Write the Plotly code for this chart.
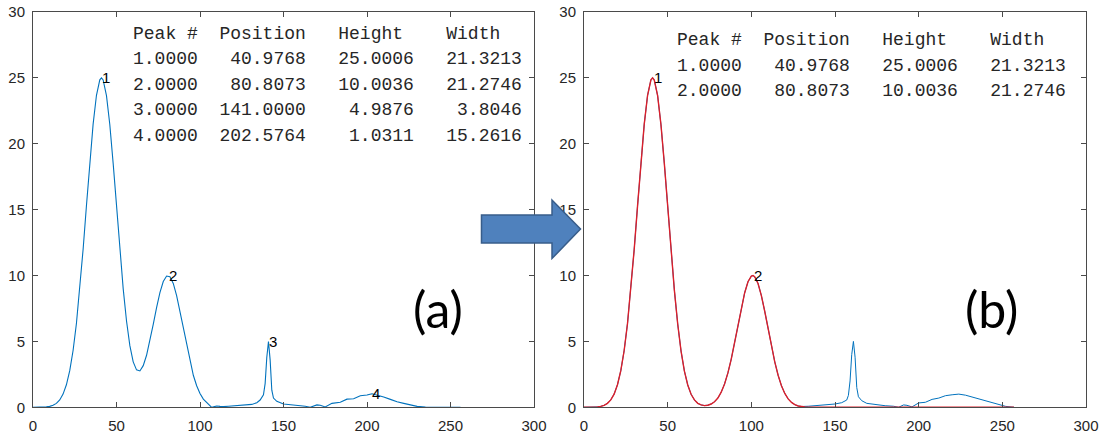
import plotly.graph_objects as go

W, H = 1109, 436

# ---------------- data ----------------
# (a) original signal
a_x = [0, 2, 4, 6, 8, 10, 12, 14, 16, 18, 20, 22, 24, 26, 28, 30, 32, 34, 36, 38, 40, 41, 42, 44, 46, 48,
       50, 52, 54, 56, 58, 60, 62, 64, 66, 68, 70, 72, 74, 76, 78, 80, 82, 84, 86, 88, 90, 92, 94, 96, 98,
       100, 102, 104, 106, 107, 108, 110, 112, 114, 117, 120, 124, 128, 131, 134, 136, 138, 139, 140, 141,
       142, 143, 144, 146, 150, 155, 160, 163, 166, 170, 172, 175, 179, 184, 188, 192, 196, 200, 203, 207,
       210, 214, 218, 222, 226, 230, 235, 240, 248, 256]
a_y = [0.00, 0.00, 0.01, 0.01, 0.03, 0.07, 0.15, 0.30, 0.56, 1.00, 1.71, 2.78, 4.31, 6.36, 8.95, 11.98,
       15.29, 18.57, 21.49, 23.68, 24.85, 25.00, 24.84, 23.65, 21.44, 18.51, 15.25, 11.98, 9.01, 6.55, 4.68,
       3.45, 2.84, 2.76, 3.16, 3.95, 5.04, 6.29, 7.56, 8.70, 9.54, 9.96, 9.91, 9.40, 8.48, 7.29, 5.96, 4.64,
       3.45, 2.43, 1.64, 1.05, 0.62, 0.34, 0.08, 0.00, 0.03, 0.10, 0.07, 0.05, 0.08, 0.10, 0.13, 0.17, 0.22,
       0.35, 0.55, 0.95, 1.80, 3.80, 4.99, 3.60, 1.30, 0.70, 0.45, 0.25, 0.18, 0.15, 0.08, 0.00, 0.18, 0.15,
       0.03, 0.30, 0.38, 0.62, 0.65, 0.88, 0.93, 1.03, 0.90, 0.78, 0.60, 0.42, 0.30, 0.17, 0.07, 0.02, 0.01,
       0.00, 0.00]

# (b) shifted signal
b_x = [0, 2, 4, 6, 8, 10, 12, 14, 16, 18, 20, 22, 24, 26, 28, 30, 32, 34, 36, 38, 40, 41, 42, 44, 46, 48,
       50, 52, 54, 56, 58, 60, 62, 64, 66, 68, 70, 72, 74, 76, 78, 80, 82, 84, 86, 88, 90, 92, 94, 96, 98,
       100, 101, 102, 104, 106, 108, 110, 112, 114, 116, 118, 120, 122, 124, 126, 128, 130, 134, 138, 142,
       146, 150, 154, 157, 158, 159, 160, 161, 162, 163, 164, 166, 169, 174, 180, 185, 188, 191, 193, 196,
       200, 204, 208, 212, 216, 220, 224, 228, 232, 236, 240, 244, 248, 252, 257]
b_y = [0.00, 0.00, 0.01, 0.01, 0.03, 0.07, 0.15, 0.30, 0.56, 1.00, 1.71, 2.78, 4.31, 6.36, 8.95, 11.98,
       15.29, 18.57, 21.49, 23.68, 24.85, 25.00, 24.84, 23.65, 21.44, 18.51, 15.22, 11.92, 8.89, 6.32, 4.27,
       2.75, 1.69, 0.99, 0.56, 0.30, 0.18, 0.13, 0.16, 0.25, 0.42, 0.70, 1.15, 1.77, 2.61, 3.66, 4.89, 6.22,
       7.53, 8.68, 9.53, 9.96, 10.00, 9.91, 9.40, 8.48, 7.29, 5.96, 4.64, 3.45, 2.43, 1.64, 1.05, 0.64, 0.37,
       0.20, 0.10, 0.06, 0.08, 0.12, 0.16, 0.20, 0.25, 0.35, 0.55, 0.90, 2.00, 4.00, 5.00, 3.80, 1.50, 0.80,
       0.50, 0.30, 0.20, 0.12, 0.08, 0.00, 0.18, 0.15, 0.03, 0.33, 0.38, 0.60, 0.70, 0.88, 0.95, 1.00, 0.92,
       0.78, 0.65, 0.50, 0.33, 0.18, 0.07, 0.00]

# (b) fitted model (two peaks)
fit_x = [0, 2, 4, 6, 8, 10, 12, 14, 16, 18, 20, 22, 24, 26, 28, 30, 32, 34, 36, 38, 40, 41, 42, 44, 46, 48,
         50, 52, 54, 56, 58, 60, 62, 64, 66, 68, 70, 72, 74, 76, 78, 80, 82, 84, 86, 88, 90, 92, 94, 96, 98,
         100, 101, 102, 104, 106, 108, 110, 112, 114, 116, 118, 120, 122, 124, 126, 128, 130, 132, 136, 257]
fit_y = [0.00, 0.00, 0.01, 0.01, 0.03, 0.07, 0.15, 0.30, 0.56, 1.00, 1.71, 2.78, 4.31, 6.36, 8.95, 11.98,
         15.29, 18.57, 21.49, 23.68, 24.85, 25.00, 24.84, 23.65, 21.44, 18.51, 15.22, 11.92, 8.89, 6.32, 4.27,
         2.75, 1.69, 0.99, 0.56, 0.30, 0.18, 0.13, 0.16, 0.25, 0.42, 0.70, 1.15, 1.77, 2.61, 3.66, 4.89, 6.22,
         7.53, 8.68, 9.53, 9.96, 10.00, 9.91, 9.40, 8.48, 7.29, 5.96, 4.64, 3.45, 2.43, 1.64, 1.05, 0.64, 0.37,
         0.20, 0.10, 0.05, 0.02, 0.00, 0.00]

# peak tables
peak_num_a = [1, 2, 3, 4]
peak_pos_a = [40.9768, 80.8073, 141.0000, 202.5764]
peak_hgt_a = [25.0006, 10.0036, 4.9876, 1.0311]
peak_wid_a = [21.3213, 21.2746, 3.8046, 15.2616]

peak_num_b = [1, 2]
peak_pos_b = [40.9768, 80.8073]
peak_hgt_b = [25.0006, 10.0036]
peak_wid_b = [21.3213, 21.2746]

# peak marker positions on the plots
lab_a_x = [40.98, 80.81, 141.0, 202.58]
lab_a_y = [25.0, 10.0, 4.99, 1.03]
lab_b_x = [40.98, 100.8]
lab_b_y = [25.0, 10.0]
lab_text_a = ["1", "2", "3", "4"]
lab_text_b = ["1", "2"]

header = "Peak #  Position   Height    Width"
panel_names = ["(a)", "(b)"]

# ---------------- figure ----------------
BLUE = "#0072BD"
RED = "#DC1F2A"
AX = "#4a4a4a"
TXT = "#262626"

def px(x):
    return x / W

def py(y):
    return 1 - y / H

fig = go.Figure()
fig.add_trace(go.Scatter(x=a_x, y=a_y, mode="lines", line=dict(color=BLUE, width=1.1),
                         xaxis="x", yaxis="y", hoverinfo="skip"))
fig.add_trace(go.Scatter(x=b_x, y=b_y, mode="lines", line=dict(color=BLUE, width=1.0),
                         xaxis="x2", yaxis="y2", hoverinfo="skip"))
fig.add_trace(go.Scatter(x=fit_x, y=fit_y, mode="lines", line=dict(color=RED, width=1.4),
                         xaxis="x2", yaxis="y2", hoverinfo="skip"))

tickfont = dict(family="Liberation Sans, Arial", size=15, color=TXT)
axcommon = dict(showline=True, linecolor=AX, linewidth=1, mirror="ticks", ticks="inside",
                ticklen=5, tickcolor=AX, tickwidth=1, showgrid=False, zeroline=False,
                tickfont=tickfont, fixedrange=True, automargin=False)
ydom = [(H - 407.3) / H, (H - 12) / H]
fig.update_layout(
    width=W, height=H, margin=dict(l=0, r=0, t=0, b=0, autoexpand=False),
    paper_bgcolor="white", plot_bgcolor="white", showlegend=False,
    xaxis=dict(domain=[px(33), px(534)], range=[0, 300], dtick=50, anchor="y",
               ticklabelstandoff=5, **axcommon),
    yaxis=dict(domain=ydom, range=[0, 30], dtick=5, anchor="x",
               ticklabelstandoff=4, **axcommon),
    xaxis2=dict(domain=[px(584), px(1086)], range=[0, 300], dtick=50, anchor="y2",
                ticklabelstandoff=5, **axcommon),
    yaxis2=dict(domain=ydom, range=[0, 30], dtick=5, anchor="x2",
                ticklabelstandoff=4, **axcommon),
)

annos = []
labfont = dict(family="Liberation Sans, Arial", size=15, color="black")
for xv, yv, t in zip(lab_a_x, lab_a_y, lab_text_a):
    annos.append(dict(x=xv, y=yv, xref="x", yref="y", text=t, showarrow=False,
                      xanchor="left", yanchor="middle", font=labfont, borderpad=0))
for xv, yv, t in zip(lab_b_x, lab_b_y, lab_text_b):
    annos.append(dict(x=xv, y=yv, xref="x2", yref="y2", text=t, showarrow=False,
                      xanchor="left", yanchor="middle", font=labfont, borderpad=0))

NB = "\u00a0"
monofont = dict(family="Courier New, Liberation Mono, monospace", size=18, color=TXT)

def table_rows(nums, pos, hgt, wid):
    rows = [header]
    for n, p, h, w in zip(nums, pos, hgt, wid):
        rows.append(f"{n:.4f}{p:10.4f}{h:10.4f}{w:10.4f}")
    return [r.replace(" ", NB) for r in rows]

def add_table(rows, x0, y0, dy):
    for i, r in enumerate(rows):
        annos.append(dict(x=px(x0), y=py(y0 + i * dy), xref="paper", yref="paper", text=r,
                          showarrow=False, xanchor="left", yanchor="middle", font=monofont,
                          borderpad=0))

add_table(table_rows(peak_num_a, peak_pos_a, peak_hgt_a, peak_wid_a), 132, 33.5, 25.6)
add_table(table_rows(peak_num_b, peak_pos_b, peak_hgt_b, peak_wid_b), 676, 40.0, 25.7)

bigfont = dict(family="Lato, Liberation Sans", size=50, color="black")
annos.append(dict(x=px(438), y=py(309), xref="paper", yref="paper", text=panel_names[0],
                  showarrow=False, xanchor="center", yanchor="middle", font=bigfont))
annos.append(dict(x=px(991), y=py(309), xref="paper", yref="paper", text=panel_names[1],
                  showarrow=False, xanchor="center", yanchor="middle", font=bigfont))
fig.update_layout(annotations=annos)

# block arrow between panels
pts = [(481.5, 215), (552, 215), (552, 200), (580.5, 229), (552, 258.5), (552, 243), (481.5, 243)]
path = "M " + " L ".join(f"{px(a):.5f},{py(b):.5f}" for a, b in pts) + " Z"
fig.add_shape(type="path", path=path, xref="paper", yref="paper",
              fillcolor="#4F81BD", line=dict(color="#385D8A", width=1.5), layer="above")

fig.write_html("out.html", config={"displayModeBar": False},
               post_script="document.body.style.margin='0';document.body.style.overflow='hidden';")
